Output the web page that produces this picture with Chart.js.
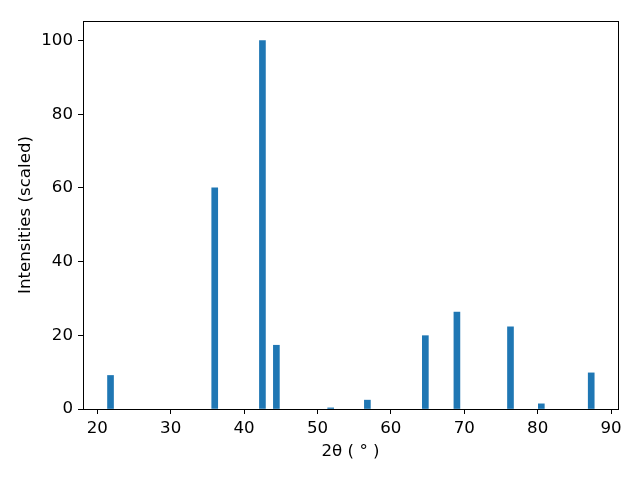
<!DOCTYPE html>
<html>
<head>
<meta charset="utf-8">
<script src="https://cdn.jsdelivr.net/npm/chart.js@4"></script>
<style>
html,body{margin:0;padding:0;background:#fff;}
#wrap{width:640px;height:480px;position:relative;}
</style>
</head>
<body>
<div id="wrap"><canvas id="c" width="640" height="480"></canvas></div>
<script>
const twoTheta = [21.8, 36.0, 42.5, 44.4, 51.8, 56.8, 64.7, 69.0, 76.3, 80.5, 87.3];
const intensities = [9.1, 60.0, 100.0, 17.3, 0.3, 2.4, 19.9, 26.3, 22.3, 1.4, 9.8];
const xTicks = [20, 30, 40, 50, 60, 70, 80, 90];
const yTicks = [0, 20, 40, 60, 80, 100];

const FONT = {family: 'DejaVu Sans', size: 16.67};

const frame = {
  id: 'frame',
  afterDraw(chart) {
    const {ctx, chartArea: a} = chart;
    ctx.save();
    ctx.strokeStyle = '#000';
    ctx.lineWidth = 1;
    ctx.strokeRect(Math.round(a.left) + 0.5, Math.round(a.top) + 0.5,
                   Math.round(a.right - a.left), Math.round(a.bottom - a.top));
    ctx.restore();
  }
};

new Chart(document.getElementById('c'), {
  type: 'bar',
  data: {
    datasets: [{
      data: twoTheta.map((x, i) => ({x: x, y: intensities[i]})),
      backgroundColor: '#1f77b4',
      borderWidth: 0,
      barThickness: 6
    }]
  },
  options: {
    responsive: false,
    animation: false,
    devicePixelRatio: 1,
    layout: {padding: {left: 0, top: 21, right: 22, bottom: 0}},
    plugins: {legend: {display: false}, tooltip: {enabled: false}},
    scales: {
      x: {
        type: 'linear',
        offset: false,
        min: 18.05,
        max: 90.95,
        afterFit(s) { s.height = 71; },
        afterBuildTicks(s) { s.ticks = xTicks.map(v => ({value: v})); },
        ticks: {font: FONT, color: '#000', padding: 5, maxRotation: 0, includeBounds: false},
        grid: {display: true, offset: false, drawOnChartArea: false, drawTicks: true, tickLength: 5, color: '#000', lineWidth: 1},
        border: {display: false},
        title: {display: true, text: '2θ ( ° )', font: FONT, color: '#000', padding: {top: 0, bottom: 18}}
      },
      y: {
        min: 0,
        max: 105.3,
        afterFit(s) { s.width = 83; },
        afterBuildTicks(s) { s.ticks = yTicks.map(v => ({value: v})); },
        ticks: {font: FONT, color: '#000', padding: 5, includeBounds: false},
        grid: {display: true, drawOnChartArea: false, drawTicks: true, tickLength: 5, color: '#000', lineWidth: 1},
        border: {display: false},
        title: {display: true, text: 'Intensities (scaled)', font: FONT, color: '#000', padding: {top: 16, bottom: 0}}
      }
    }
  },
  plugins: [frame]
});
</script>
</body>
</html>
